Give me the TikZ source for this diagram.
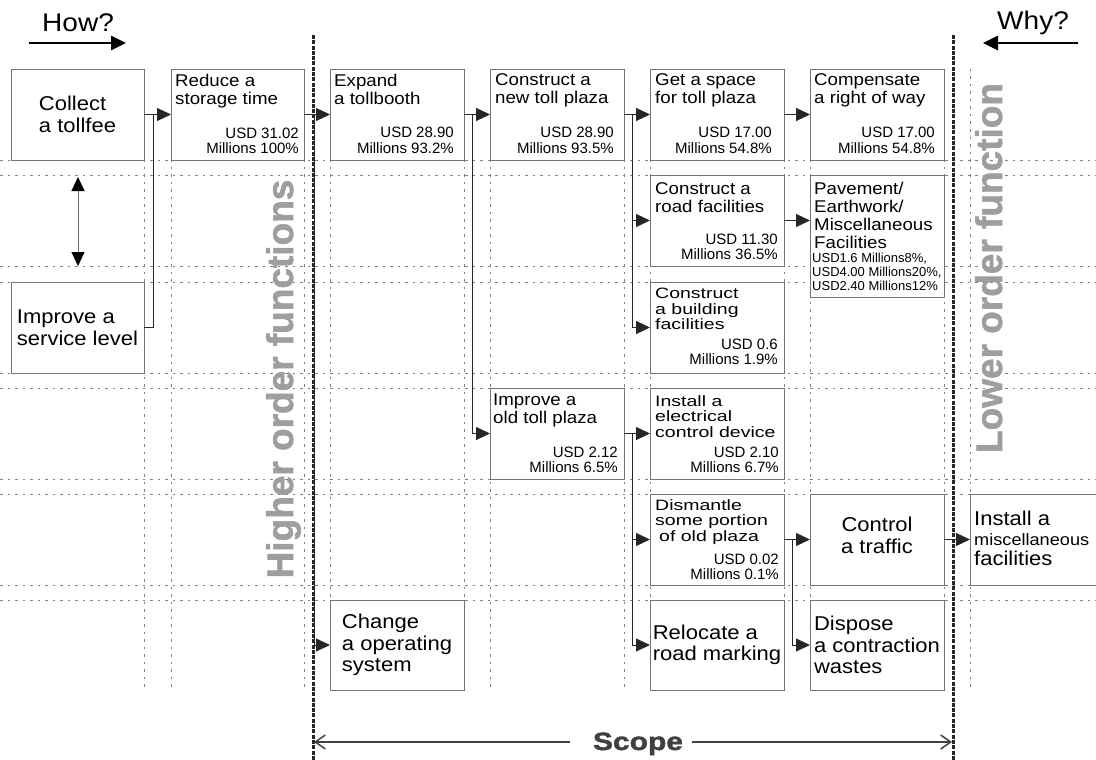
\documentclass[tikz,border=0pt]{standalone}
\usepackage{fontspec}
\setmainfont{Liberation Sans}[FakeStretch=1.1]
\newfontfamily\valfont{Liberation Sans}
\newfontfamily\widefont{Liberation Sans}[FakeStretch=1.3]
\newfontfamily\heavyfont{Liberation Sans}[BoldFeatures={FakeBold=1.5}]
\newfontfamily\scopefont{Liberation Sans}[FakeStretch=1.2,BoldFeatures={FakeBold=1.5}]
\usetikzlibrary{arrows.meta}
\newcommand\mkbox[5]{\node[box, minimum width={(#4-#2)*1pt}, minimum height={(#5-#3)*1pt}] (#1) at ({(#2+#4)/2},{(#3+#5)/2}) {};}
\begin{document}
\begin{tikzpicture}[x=1pt,y=-1pt,
  box/.style={draw=black!55, line width=0.9pt, fill=white, inner sep=0pt, outer sep=0pt},
  gridline/.style={draw=black!50, line width=1pt, dash pattern=on 2.5pt off 5pt},
  scopeline/.style={draw=black!85, line width=3pt, dash pattern=on 4pt off 1.3pt},
  conn/.style={draw=black!85, line width=0.9pt},
  arr/.style={conn, -{Triangle[length=14pt,width=13pt]}},
  ttl/.style={inner sep=0pt, anchor=north west, align=left, font=\fontsize{17}{18}\selectfont},
  wide/.style={inner sep=0pt, anchor=north west, align=left, font=\widefont\fontsize{15}{15.5}\selectfont},
  val/.style={inner sep=0pt, anchor=south east, align=right, font=\valfont\fontsize{15}{15.5}\selectfont},
  small/.style={inner sep=0pt, anchor=south west, align=left, font=\valfont\fontsize{13}{14}\selectfont},
  big/.style={inner sep=0pt, align=left, font=\fontsize{20}{21.5}\selectfont},
  side/.style={inner sep=0pt, rotate=90, anchor=base, text=black!38, font=\heavyfont\bfseries\fontsize{37}{37}\selectfont},
]
\useasboundingbox (0,0) rectangle (1096,760);
\clip (0,0) rectangle (1096,760);

% grid
\foreach \y in {160,175,266,282,373,388,479,494,585,600} \draw[gridline] (0,\y) -- (1096,\y);
\foreach \x in {144,171,304,330,464,490,624,650,784,810,944,970} \draw[gridline] (\x,69) -- (\x,690);

% scope boundaries
\draw[scopeline] (313,35) -- (313,760);
\draw[scopeline] (953,35) -- (953,760);

% side labels
\node[side] (higher) at (293,379) {Higher order functions};
\node[side] (lower) at (1002,268) {Lower order function};

% boxes
\mkbox{collect}{11}{69}{144}{160}
\mkbox{reduce}{171}{69}{304}{160}
\mkbox{expand}{330}{69}{464}{160}
\mkbox{newplaza}{490}{69}{624}{160}
\mkbox{space}{650}{69}{784}{160}
\mkbox{comp}{810}{69}{944}{160}
\mkbox{roadfac}{650}{175}{784}{266}
\mkbox{pave}{810}{175}{944}{297}
\mkbox{service}{11}{282}{144}{373}
\mkbox{building}{650}{282}{784}{373}
\mkbox{oldplaza}{490}{388}{624}{479}
\mkbox{elec}{650}{388}{784}{479}
\mkbox{dismantle}{650}{494}{784}{585}
\mkbox{traffic}{810}{494}{944}{585}
\mkbox{misc}{970}{494}{1110}{585}
\mkbox{change}{330}{600}{464}{690}
\mkbox{relocate}{650}{600}{784}{690}
\mkbox{dispose}{810}{600}{944}{690}

% junction points
\coordinate (j1) at (153,114.5);
\coordinate (j2) at (314,114.5);
\coordinate (j3) at (472,114.5);
\coordinate (j4) at (632,114.5);
\coordinate (j5) at (632,433.5);
\coordinate (j6) at (792,539.5);

% connectors
\draw[arr] (collect.east) -- (reduce.west);
\draw[conn] (service.east) -| (j1);
\draw[arr] (reduce.east) -- (expand.west);
\draw[arr] (j2) |- (change.west);
\draw[arr] (expand.east) -- (newplaza.west);
\draw[arr] (j3) |- (oldplaza.west);
\draw[arr] (newplaza.east) -- (space.west);
\draw[arr] (j4) |- (roadfac.west);
\draw[arr] (j4) |- (building.west);
\draw[arr] (space.east) -- (comp.west);
\draw[arr] (roadfac.east) -- (roadfac.east -| pave.west);
\draw[arr] (oldplaza.east) -- (elec.west);
\draw[arr] (j5) |- (dismantle.west);
\draw[arr] (j5) |- (relocate.west);
\draw[arr] (dismantle.east) -- (traffic.west);
\draw[arr] (j6) |- (dispose.west);
\draw[arr] (traffic.east) -- (misc.west);

% double arrow between the two top-level functions
\coordinate (da-top) at (78,177);
\coordinate (da-bot) at (78,266);
\draw[draw=black!60, line width=1pt, {Triangle[length=14pt,width=13pt,fill=black,color=black]}-{Triangle[length=14pt,width=13pt,fill=black,color=black]}] (da-top) -- (da-bot);

% How? / Why?
\node[inner sep=0pt, anchor=base west, font=\fontsize{25.5}{26}\selectfont] (how) at (42,32) {How?};
\coordinate (how-a) at (29,43);
\coordinate (how-b) at (126,43);
\draw[line width=2.8pt, -{Triangle[length=15pt,width=14pt]}] (how-a) -- (how-b);
\node[inner sep=0pt, anchor=base west, font=\fontsize{25.5}{26}\selectfont] (why) at (997,30) {Why?};
\coordinate (why-a) at (1078,43);
\coordinate (why-b) at (983,43);
\draw[line width=2.8pt, -{Triangle[length=15pt,width=14pt]}] (why-a) -- (why-b);

% Scope
\node[inner sep=0pt, anchor=base, text=black!75, font=\scopefont\bfseries\fontsize{25}{25}\selectfont] (scope) at (638,750) {Scope};
\coordinate (sc-l0) at (570,742);
\coordinate (sc-l1) at (314,742);
\coordinate (sc-r0) at (692,742);
\coordinate (sc-r1) at (952,742);
\draw[draw=black!75, line width=1.5pt, -{Straight Barb[length=10pt,width=14pt]}] (sc-l0) -- (sc-l1);
\draw[draw=black!75, line width=1.5pt, -{Straight Barb[length=10pt,width=14pt]}] (sc-r0) -- (sc-r1);

% texts: big boxes
\node[big] (collect-t) at (collect.center) {Collect\\a tollfee};
\node[big] (service-t) at (service.center) {Improve a\\service level};
\node[big] (change-t) at (change.center) {Change\\a operating\\system};
\node[big] (relocate-t) at (relocate.center) {Relocate a\\road marking};
\node[big, align=center] (traffic-t) at ([yshift=4pt]traffic.center) {Control\\a traffic};
\node[big] (dispose-t) at (dispose.center) {Dispose\\a contraction\\wastes};
\node[inner sep=0pt, anchor=base west, font=\fontsize{20}{21}\selectfont] (misc-t1) at (974,525) {Install a};
\node[inner sep=0pt, anchor=base west, font=\fontsize{16.5}{17}\selectfont] (misc-t2) at (974,545) {miscellaneous};
\node[inner sep=0pt, anchor=base west, font=\fontsize{20}{21}\selectfont] (misc-t3) at (974,565) {facilities};

% texts: boxes with cost
\node[ttl] (reduce-t) at ([shift={(4,4.5)}]reduce.north west) {Reduce a\\storage time};
\node[val] (reduce-v) at ([shift={(-5,-6)}]reduce.south east) {USD 31.02\\Millions 100\%};
\node[ttl] (expand-t) at ([shift={(4,5)}]expand.north west) {Expand\\a tollbooth};
\node[val] (expand-v) at ([shift={(-10,-6.5)}]expand.south east) {USD 28.90\\Millions 93.2\%};
\node[ttl] (newplaza-t) at ([shift={(5,4)}]newplaza.north west) {Construct a\\new toll plaza};
\node[val] (newplaza-v) at ([shift={(-10,-6.5)}]newplaza.south east) {USD 28.90\\Millions 93.5\%};
\node[ttl] (space-t) at ([shift={(5,4.5)}]space.north west) {Get a space\\for toll plaza};
\node[val] (space-v) at ([shift={(-12,-6.5)}]space.south east) {USD 17.00\\Millions 54.8\%};
\node[ttl] (comp-t) at ([shift={(4,4)}]comp.north west) {Compensate\\a right of way};
\node[val] (comp-v) at ([shift={(-9,-6.5)}]comp.south east) {USD 17.00\\Millions 54.8\%};
\node[ttl] (roadfac-t) at ([shift={(5,7.5)}]roadfac.north west) {Construct a\\road facilities};
\node[val] (roadfac-v) at ([shift={(-6,-6)}]roadfac.south east) {USD 11.30\\Millions 36.5\%};
\node[ttl] (pave-t) at ([shift={(4,6.5)}]pave.north west) {Pavement/\\Earthwork/\\Miscellaneous\\Facilities};
\node[small] (pave-v) at ([shift={(2,-6)}]pave.south west) {USD1.6 Millions8\%,\\USD4.00 Millions20\%,\\USD2.40 Millions12\%};
\node[wide] (building-t) at ([shift={(5,6)}]building.north west) {Construct\\a building\\facilities};
\node[val] (building-v) at ([shift={(-6,-8)}]building.south east) {USD 0.6\\Millions 1.9\%};
\node[ttl] (oldplaza-t) at ([shift={(3,6)}]oldplaza.north west) {Improve a\\old toll plaza};
\node[val] (oldplaza-v) at ([shift={(-6,-6)}]oldplaza.south east) {USD 2.12\\Millions 6.5\%};
\node[wide] (elec-t) at ([shift={(5,7)}]elec.north west) {Install a\\electrical\\control device};
\node[val] (elec-v) at ([shift={(-5,-6)}]elec.south east) {USD 2.10\\Millions 6.7\%};
\node[wide] (dismantle-t) at ([shift={(5,5)}]dismantle.north west) {Dismantle\\some portion\\\hspace{4pt}of old plaza};
\node[val] (dismantle-v) at ([shift={(-5,-5)}]dismantle.south east) {USD 0.02\\Millions 0.1\%};
\end{tikzpicture}
\end{document}
